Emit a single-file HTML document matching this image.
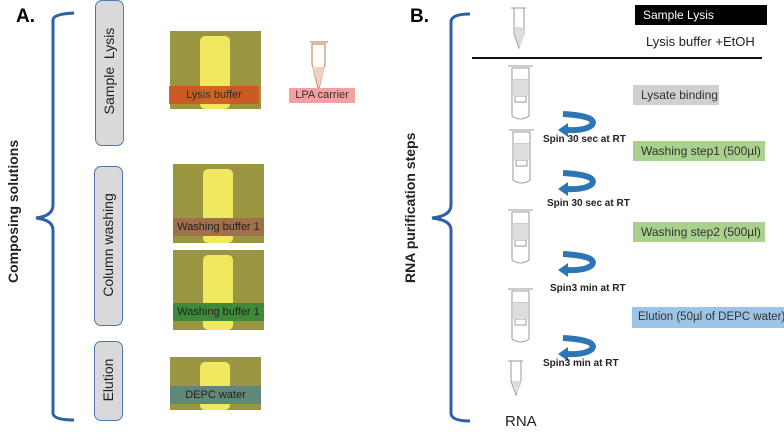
<!DOCTYPE html><html><head><style>
body{margin:0;width:784px;height:436px;background:#fff;position:relative;overflow:hidden;font-family:"Liberation Sans",sans-serif}
.a{position:absolute}
.pill{position:absolute;background:#d9d9d9;border:1.5px solid #4a7ab0;border-radius:7px;box-sizing:border-box}
.vt{position:absolute;transform:rotate(-90deg);white-space:nowrap;font-size:14px;color:#222;transform-origin:center}
.bot{position:absolute;background:#9a9540}
.bot i{position:absolute;background:#f0e860;border-radius:5px}
.lab{position:absolute;font-size:11px;color:#222;text-align:center;line-height:18px}
.box{position:absolute;font-size:12px;line-height:20px;padding-left:8px;box-sizing:border-box;color:#333;white-space:nowrap;overflow:hidden}
.sp{position:absolute;font-size:10px;font-weight:bold;color:#222;white-space:nowrap}
</style></head><body>
<div class="a" style="left:16px;top:6px;font-size:19px;font-weight:bold">A.</div>
<div class="a" style="left:410px;top:6px;font-size:19px;font-weight:bold">B.</div>
<svg class="a" style="left:0;top:0" width="784" height="436">
<path d="M74 13 Q53 14 53 20 L53 205 Q53 216 36 218 Q53 220 53 230 L53 413 Q53 420 74 420" fill="none" stroke="#2f5fa8" stroke-width="3"/>
<path d="M470 14 Q451 14 451 22 L451 205 Q451 216 432 218 Q451 220 451 230 L451 413 Q451 421 470 421" fill="none" stroke="#2f5fa8" stroke-width="3"/>
<line x1="472" y1="58" x2="762" y2="58" stroke="#111" stroke-width="2"/>
<g fill="none" stroke="#999" stroke-width="1">
<path d="M511 8 h15 M514 8 v26 l5 14 l5 -14 v-26"/>
<path d="M508 66 h25 M512 68 h17 v48 q-8 6 -17 0z M513 80 h15 M515 96 h11 v6 h-11z"/>
<path d="M509 130 h25 M513 132 h17 v48 q-8 6 -17 0z M514 144 h15 M516 160 h11 v6 h-11z"/>
<path d="M508 210 h25 M512 212 h17 v48 q-8 6 -17 0z M513 224 h15 M515 240 h11 v6 h-11z"/>
<path d="M508 289 h25 M512 291 h17 v48 q-8 6 -17 0z M513 303 h15 M515 319 h11 v6 h-11z"/>
<path d="M508 361 h15 M511 361 v20 l5 14 l5 -14 v-20"/>
</g>
<g fill="#ddd"><path d="M515 27 h9 v8 l-4 12 l-1 0 l-4 -12z"/><rect x="513" y="80" width="15" height="16"/><rect x="514" y="144" width="15" height="16"/><rect x="513" y="224" width="15" height="16"/><rect x="513" y="303" width="15" height="16"/><path d="M512 381 h9 l-4 13z"/></g>
<g fill="none" stroke="#2e75b6" stroke-width="6">
<path d="M563 114 Q598 116 592 125 Q585 131 566 130"/>
<path d="M563 173 Q598 175 592 184 Q585 190 566 189"/>
<path d="M563 254 Q598 256 592 265 Q585 271 566 270"/>
<path d="M563 338 Q598 340 592 349 Q585 355 566 354"/>
</g>
<g fill="#2e75b6"><path d="M558 130 l10 -7 v14z"/><path d="M558 189 l10 -7 v14z"/><path d="M558 270 l10 -7 v14z"/><path d="M558 354 l10 -7 v14z"/></g>
<path d="M310 42 h18 M312 44 h13 v20 l-6 24 l-1 0 l-6 -24z" fill="none" stroke="#c8906a" stroke-width="1.2"/>
<path d="M312 67 h13 l-6 20z" fill="#f0d0c0"/>
</svg>
<div class="vt" style="left:-52px;top:210px;font-weight:bold;font-size:14px;width:130px;text-align:center">Composing solutions</div>
<div class="vt" style="left:345px;top:210px;font-size:14px;font-weight:bold;width:130px;text-align:center">RNA purification steps</div>
<div class="pill" style="left:95px;top:0;width:29px;height:146px"></div>
<div class="vt" style="left:49px;top:63px;width:120px;text-align:center">Sample &nbsp;Lysis</div>
<div class="pill" style="left:94px;top:166px;width:29px;height:160px"></div>
<div class="vt" style="left:48px;top:237px;width:120px;text-align:center">Column washing</div>
<div class="pill" style="left:94px;top:341px;width:29px;height:80px"></div>
<div class="vt" style="left:48px;top:372px;width:120px;text-align:center">Elution</div>
<div class="bot" style="left:170px;top:31px;width:91px;height:78px"><i style="left:30px;top:5px;width:30px;height:73px"></i></div>
<div class="lab" style="left:169px;top:86px;width:90px;background:#d0541f;opacity:.9">Lysis buffer</div>
<div class="lab" style="left:289px;top:88px;width:66px;background:#f4a0a0;color:#333;line-height:15px">LPA carrier</div>
<div class="bot" style="left:173px;top:164px;width:91px;height:79px"><i style="left:30px;top:5px;width:30px;height:74px"></i></div>
<div class="lab" style="left:173px;top:218px;width:91px;background:#a0704a">Washing buffer 1</div>
<div class="bot" style="left:173px;top:250px;width:91px;height:80px"><i style="left:30px;top:5px;width:30px;height:75px"></i></div>
<div class="lab" style="left:173px;top:303px;width:91px;background:#3f8a3a">Washing buffer 1</div>
<div class="bot" style="left:170px;top:357px;width:91px;height:53px"><i style="left:30px;top:5px;width:30px;height:48px"></i></div>
<div class="lab" style="left:170px;top:386px;width:91px;background:#608878">DEPC water</div>
<div class="box" style="left:635px;top:5px;width:132px;height:20px;background:#000;color:#fff">Sample Lysis</div>
<div class="a" style="left:646px;top:34px;font-size:13px;color:#222">Lysis buffer +EtOH</div>
<div class="box" style="left:633px;top:85px;width:86px;height:20px;background:#d0d0d0">Lysate binding</div>
<div class="box" style="left:633px;top:141px;width:132px;height:20px;background:#a9d18e">Washing step1 (500µl)</div>
<div class="box" style="left:633px;top:222px;width:132px;height:20px;background:#a9d18e">Washing step2 (500µl)</div>
<div class="box" style="left:632px;top:307px;width:152px;height:21px;background:#9dc3e6;font-size:11.5px;padding-left:6px">Elution (50µl of DEPC water)</div>
<div class="sp" style="left:543px;top:134px">Spin 30 sec at RT</div>
<div class="sp" style="left:547px;top:198px">Spin 30 sec at RT</div>
<div class="sp" style="left:550px;top:283px">Spin3 min at RT</div>
<div class="sp" style="left:543px;top:358px">Spin3 min at RT</div>
<div class="a" style="left:505px;top:413px;font-size:15px;color:#222">RNA</div>
</body></html>
